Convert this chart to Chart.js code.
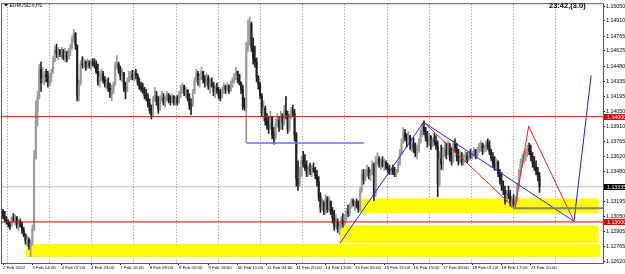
<!DOCTYPE html>
<html>
<head>
<meta charset="utf-8">
<script src="https://cdn.jsdelivr.net/npm/chart.js@4.4.1/dist/chart.umd.min.js"></script>
<style>
  html, body { margin: 0; padding: 0; background: #fff; }
  canvas { display: block; }
</style>
</head>
<body>
<canvas id="chart" width="625" height="274"></canvas>
<script>
// EURUSD.s H1 bars, 2 Feb 21:00 -> 21 Feb 15:00 (one value per hourly bar)
var highs = [
  1.1312,1.1310,1.1305,1.1302,1.1300,1.1305,1.1308,1.1307,1.1304,1.1302,1.1303,1.1300,1.1295,1.1289,1.1287,1.1285,1.1283,1.1297,1.1368,1.1415,
  1.1424,1.1450,1.1452,1.1447,1.1443,1.1445,1.1443,1.1441,1.1445,1.1457,1.1467,1.1469,1.1466,1.1464,1.1466,1.1464,1.1465,1.1462,1.1465,1.1469,
  1.1477,1.1483,1.1480,1.1468,1.1435,1.1453,1.1457,1.1455,1.1453,1.1455,1.1453,1.1454,1.1455,1.1455,1.1453,1.1450,1.1443,1.1445,1.1443,1.1438,
  1.1436,1.1437,1.1432,1.1430,1.1433,1.1452,1.1458,1.1452,1.1448,1.1446,1.1442,1.1433,1.1437,1.1443,1.1443,1.1444,1.1443,1.1445,1.1441,1.1437,
  1.1433,1.1432,1.1428,1.1426,1.1422,1.1417,1.1411,1.1419,1.1428,1.1424,1.1419,1.1420,1.1424,1.1422,1.1420,1.1424,1.1422,1.1420,1.1422,1.1420,
  1.1419,1.1420,1.1424,1.1430,1.1432,1.1430,1.1428,1.1426,1.1422,1.1417,1.1426,1.1437,1.1445,1.1443,1.1441,1.1447,1.1443,1.1439,1.1441,1.1439,
  1.1436,1.1437,1.1433,1.1430,1.1432,1.1428,1.1426,1.1428,1.1432,1.1430,1.1432,1.1430,1.1434,1.1437,1.1441,1.1447,1.1443,1.1440,1.1433,1.1430,
  1.1418,1.1471,1.1492,1.1495,1.1490,1.1475,1.1467,1.1456,1.1439,1.1433,1.1422,1.1415,1.1410,1.1403,1.1400,1.1405,1.1400,1.1390,1.1398,1.1403,
  1.1400,1.1405,1.1403,1.1411,1.1419,1.1405,1.1403,1.1409,1.1411,1.1407,1.1385,1.1358,1.1352,1.1362,1.1367,1.1364,1.1358,1.1354,1.1356,1.1354,
  1.1356,1.1352,1.1349,1.1343,1.1328,1.1322,1.1320,1.1326,1.1324,1.1324,1.1320,1.1314,1.1311,1.1307,1.1303,1.1299,1.1305,1.1308,1.1307,1.1313,
  1.1316,1.1318,1.1322,1.1322,1.1320,1.1322,1.1320,1.1333,1.1349,1.1350,1.1350,1.1354,1.1352,1.1350,1.1358,1.1356,1.1362,1.1366,1.1362,1.1360,
  1.1362,1.1360,1.1358,1.1356,1.1354,1.1352,1.1354,1.1352,1.1350,1.1358,1.1369,1.1379,1.1390,1.1388,1.1384,1.1386,1.1382,1.1379,1.1380,1.1375,
  1.1373,1.1379,1.1388,1.1394,1.1396,1.1390,1.1386,1.1384,1.1382,1.1380,1.1384,1.1382,1.1377,1.1367,1.1373,1.1371,1.1377,1.1375,1.1377,1.1375,
  1.1371,1.1377,1.1379,1.1375,1.1369,1.1367,1.1366,1.1364,1.1367,1.1366,1.1367,1.1369,1.1367,1.1371,1.1369,1.1371,1.1375,1.1377,1.1375,1.1373,
  1.1377,1.1379,1.1377,1.1369,1.1366,1.1362,1.1360,1.1358,1.1350,1.1347,1.1339,1.1334,1.1330,1.1334,1.1330,1.1324,1.1326,1.1324,1.1337,1.1350,
  1.1360,1.1364,1.1367,1.1369,1.1373,1.1375,1.1373,1.1366,1.1362,1.1358,1.1352,1.1347
];
var lows = [
  1.1303,1.1300,1.1298,1.1295,1.1293,1.1296,1.1300,1.1297,1.1294,1.1292,1.1295,1.1289,1.1286,1.1279,1.1277,1.1274,1.1267,1.1278,1.1292,1.1360,
  1.1391,1.1417,1.1424,1.1432,1.1430,1.1433,1.1428,1.1429,1.1433,1.1441,1.1452,1.1456,1.1454,1.1457,1.1455,1.1454,1.1452,1.1452,1.1455,1.1458,
  1.1464,1.1471,1.1464,1.1415,1.1415,1.1430,1.1446,1.1446,1.1444,1.1446,1.1446,1.1445,1.1448,1.1446,1.1441,1.1430,1.1428,1.1434,1.1432,1.1428,
  1.1426,1.1424,1.1418,1.1415,1.1422,1.1430,1.1446,1.1441,1.1435,1.1433,1.1424,1.1417,1.1424,1.1433,1.1435,1.1435,1.1434,1.1436,1.1430,1.1426,
  1.1424,1.1422,1.1417,1.1415,1.1409,1.1403,1.1398,1.1400,1.1415,1.1411,1.1403,1.1406,1.1415,1.1411,1.1409,1.1415,1.1413,1.1411,1.1413,1.1411,
  1.1411,1.1411,1.1413,1.1418,1.1422,1.1420,1.1418,1.1415,1.1407,1.1402,1.1410,1.1422,1.1433,1.1430,1.1428,1.1435,1.1432,1.1428,1.1430,1.1426,
  1.1422,1.1428,1.1420,1.1418,1.1422,1.1417,1.1415,1.1418,1.1422,1.1422,1.1424,1.1422,1.1424,1.1428,1.1432,1.1435,1.1432,1.1430,1.1422,1.1407,
  1.1406,1.1375,1.1462,1.1468,1.1462,1.1450,1.1447,1.1433,1.1426,1.1417,1.1400,1.1396,1.1392,1.1388,1.1384,1.1388,1.1379,1.1374,1.1378,1.1390,
  1.1386,1.1388,1.1388,1.1392,1.1398,1.1384,1.1386,1.1398,1.1400,1.1377,1.1334,1.1330,1.1334,1.1343,1.1352,1.1349,1.1343,1.1343,1.1345,1.1343,
  1.1347,1.1341,1.1334,1.1320,1.1309,1.1311,1.1307,1.1308,1.1309,1.1310,1.1307,1.1299,1.1292,1.1294,1.1290,1.1288,1.1294,1.1295,1.1297,1.1301,
  1.1305,1.1306,1.1313,1.1315,1.1311,1.1313,1.1309,1.1310,1.1328,1.1336,1.1339,1.1343,1.1341,1.1339,1.1345,1.1320,1.1324,1.1354,1.1352,1.1350,
  1.1352,1.1349,1.1350,1.1347,1.1345,1.1345,1.1345,1.1343,1.1343,1.1347,1.1354,1.1364,1.1375,1.1377,1.1371,1.1375,1.1369,1.1367,1.1366,1.1362,
  1.1360,1.1366,1.1375,1.1381,1.1383,1.1377,1.1371,1.1373,1.1369,1.1371,1.1373,1.1369,1.1324,1.1334,1.1350,1.1349,1.1362,1.1360,1.1364,1.1358,
  1.1354,1.1356,1.1366,1.1358,1.1354,1.1356,1.1354,1.1354,1.1358,1.1356,1.1358,1.1360,1.1360,1.1362,1.1360,1.1362,1.1366,1.1367,1.1364,1.1366,
  1.1367,1.1369,1.1364,1.1358,1.1352,1.1349,1.1350,1.1343,1.1336,1.1330,1.1326,1.1317,1.1319,1.1322,1.1315,1.1313,1.1315,1.1313,1.1320,1.1333,
  1.1346,1.1352,1.1356,1.1358,1.1362,1.1364,1.1358,1.1352,1.1349,1.1345,1.1339,1.1328
];
var closes = [
  1.1305,1.1302,1.1300,1.1298,1.1296,1.1303,1.1302,1.1305,1.1298,1.1300,1.1297,1.1292,1.1288,1.1282,1.1283,1.1277,1.1280,1.1293,1.1360,1.1405,
  1.1418,1.1445,1.1432,1.1436,1.1440,1.1438,1.1431,1.1437,1.1442,1.1453,1.1463,1.1460,1.1463,1.1459,1.1462,1.1456,1.1461,1.1455,1.1463,1.1466,
  1.1474,1.1479,1.1468,1.1420,1.1432,1.1450,1.1449,1.1452,1.1447,1.1451,1.1449,1.1452,1.1450,1.1448,1.1443,1.1433,1.1438,1.1441,1.1435,1.1431,
  1.1433,1.1427,1.1421,1.1425,1.1430,1.1448,1.1450,1.1444,1.1439,1.1442,1.1428,1.1424,1.1433,1.1438,1.1440,1.1437,1.1441,1.1439,1.1433,1.1429,
  1.1427,1.1424,1.1420,1.1418,1.1412,1.1406,1.1401,1.1415,1.1420,1.1414,1.1407,1.1416,1.1418,1.1413,1.1417,1.1421,1.1416,1.1414,1.1419,1.1413,
  1.1417,1.1413,1.1421,1.1426,1.1429,1.1423,1.1425,1.1418,1.1411,1.1410,1.1422,1.1434,1.1441,1.1435,1.1438,1.1443,1.1436,1.1433,1.1437,1.1429,
  1.1432,1.1431,1.1424,1.1427,1.1425,1.1420,1.1418,1.1424,1.1429,1.1426,1.1430,1.1425,1.1431,1.1435,1.1438,1.1443,1.1440,1.1433,1.1426,1.1410,
  1.1409,1.1465,1.1470,1.1488,1.1466,1.1455,1.1452,1.1437,1.1431,1.1420,1.1404,1.1408,1.1396,1.1392,1.1389,1.1400,1.1383,1.1380,1.1393,1.1397,
  1.1390,1.1401,1.1394,1.1406,1.1402,1.1388,1.1400,1.1405,1.1403,1.1383,1.1341,1.1336,1.1345,1.1358,1.1355,1.1352,1.1346,1.1350,1.1348,1.1351,
  1.1349,1.1344,1.1338,1.1324,1.1313,1.1318,1.1310,1.1322,1.1312,1.1319,1.1309,1.1304,1.1296,1.1300,1.1293,1.1296,1.1302,1.1298,1.1304,1.1310,
  1.1308,1.1315,1.1320,1.1317,1.1319,1.1316,1.1312,1.1330,1.1345,1.1340,1.1347,1.1350,1.1344,1.1346,1.1355,1.1326,1.1358,1.1360,1.1356,1.1358,
  1.1354,1.1357,1.1352,1.1350,1.1347,1.1350,1.1347,1.1345,1.1348,1.1355,1.1365,1.1375,1.1385,1.1380,1.1378,1.1382,1.1373,1.1375,1.1370,1.1365,
  1.1368,1.1375,1.1384,1.1390,1.1386,1.1380,1.1376,1.1381,1.1372,1.1378,1.1376,1.1372,1.1336,1.1360,1.1355,1.1366,1.1368,1.1364,1.1372,1.1362,
  1.1358,1.1374,1.1370,1.1362,1.1357,1.1360,1.1357,1.1361,1.1363,1.1359,1.1365,1.1362,1.1364,1.1368,1.1363,1.1369,1.1372,1.1374,1.1367,1.1370,
  1.1375,1.1372,1.1366,1.1361,1.1355,1.1352,1.1357,1.1346,1.1339,1.1334,1.1330,1.1320,1.1327,1.1325,1.1318,1.1320,1.1317,1.1322,1.1334,1.1346,
  1.1356,1.1359,1.1363,1.1365,1.1370,1.1367,1.1362,1.1356,1.1352,1.1348,1.1343,1.13335
];
var firstOpen = 1.1310;

// time axis: a label every 17 bars, grid every ~24.5 bars
var labelBars = [0, 17, 34, 51, 68, 85, 102, 119, 136, 153, 170, 187, 204, 221, 238, 255, 272, 289, 306];
var timeLabels = ["2 Feb 2022", "3 Feb 14:00", "4 Feb 07:00", "4 Feb 23:00", "7 Feb 16:00", "8 Feb 09:00",
  "9 Feb 02:00", "9 Feb 18:00", "10 Feb 11:00", "11 Feb 04:00", "11 Feb 20:00", "14 Feb 13:00",
  "15 Feb 06:00", "15 Feb 22:00", "16 Feb 15:00", "17 Feb 08:00", "18 Feb 01:00", "18 Feb 17:00", "21 Feb 10:00"];
var gridBars = [2.5, 27, 51.4, 75.9, 100.4, 124.8, 149.3, 173.8, 198.2, 222.7, 247.1, 271.6, 296, 320.5];
var priceTicks = [1.15050, 1.14910, 1.14765, 1.14625, 1.14480, 1.14335, 1.14195, 1.14050, 1.13910,
  1.13765, 1.13620, 1.13480, 1.13335, 1.13195, 1.13050, 1.12905, 1.12765, 1.12620];

// drawn objects
var roundLevels = [1.14000, 1.13000];
var bidPrice = 1.13335;
var zoneFrom = [13.3, 194.8, 207.5];
var zoneTo = [346.2, 345.2, 345.2];
var zoneTop = [1.12789, 1.12968, 1.13223];
var zoneBottom = [1.12667, 1.12799, 1.13081];
var blueLegBars = [195.4, 243.8, 331, 340.9];
var blueLegPrices = [1.12799, 1.13948, 1.13006, 1.14391];
var redLegBars = [243.8, 296.8, 304.7, 331];
var redLegPrices = [1.13948, 1.13128, 1.13910, 1.13006];
var flatBlueBars = [141.4, 209.3];
var flatBluePrice = 1.13750;
var flatGrayBars = [295.7, 348];
var flatGrayPrice = 1.13131;

var xMin = -0.6, xMax = 347.8;
var yMin = 1.12610, yMax = 1.15069;

var opens = closes.map((c, i) => i ? closes[i - 1] : firstOpen);
var candleColor = (i) => closes[i] >= opens[i] ? '#9a9a9a' : '#202020';
var font = 'Liberation Sans';

function segment(bars, prices, color, width, order) {
  return {
    type: 'line',
    data: bars.map((b, i) => ({x: b, y: Array.isArray(prices) ? prices[i] : prices})),
    borderColor: color,
    borderWidth: width,
    pointRadius: 0,
    fill: false,
    tension: 0,
    order: order,
    xAxisID: 'x',
    yAxisID: 'y'
  };
}

var datasets = [
  segment([xMin, xMax], bidPrice, '#c4c4c4', 1, 10),
  {
    type: 'bar',
    data: closes.map((c, i) => ({x: i, y: [lows[i], highs[i]]})),
    backgroundColor: (ctx) => candleColor(ctx.dataIndex),
    barThickness: 1,
    grouped: false,
    order: 4,
    xAxisID: 'x',
    yAxisID: 'y'
  },
  {
    type: 'bar',
    data: closes.map((c, i) => ({x: i, y: [opens[i], c]})),
    backgroundColor: (ctx) => candleColor(ctx.dataIndex),
    barThickness: 1.4,
    minBarLength: 1,
    grouped: false,
    order: 3,
    xAxisID: 'x',
    yAxisID: 'y'
  },
  segment([xMin, xMax], roundLevels[0], '#e00000', 1, 1),
  segment([xMin, xMax], roundLevels[1], '#e00000', 1, 1),
  segment(flatBlueBars, flatBluePrice, '#6f6ff5', 1.5, 1),
  segment(flatGrayBars, flatGrayPrice, '#7f7f7f', 2, 1),
  segment(redLegBars, redLegPrices, '#f01818', 1, 1),
  segment(blueLegBars, blueLegPrices, '#1e1ee0', 1, 1)
];

var overlay = {
  id: 'overlay',
  beforeDatasetsDraw(chart) {
    const {ctx, chartArea, scales: {x, y}} = chart;
    ctx.save();
    ctx.beginPath();
    ctx.rect(chartArea.left, chartArea.top, chartArea.width, chartArea.height);
    ctx.clip();
    ctx.fillStyle = '#ffff00';
    zoneFrom.forEach((f, i) => {
      const x0 = x.getPixelForValue(f), x1 = x.getPixelForValue(zoneTo[i]);
      const y0 = y.getPixelForValue(zoneTop[i]), y1 = y.getPixelForValue(zoneBottom[i]);
      ctx.fillRect(x0, y0, x1 - x0, y1 - y0);
    });
    ctx.restore();
  },
  afterDraw(chart) {
    const {ctx, chartArea, scales: {y}} = chart;
    ctx.save();
    // frame
    ctx.strokeStyle = '#5a5a5a';
    ctx.lineWidth = 1;
    ctx.strokeRect(chartArea.left - 0.5, chartArea.top - 0.5, chartArea.width + 1, chartArea.height + 1);

    // price boxes on the right scale
    const boxes = [[roundLevels[0], '#e00000'], [roundLevels[1], '#e00000'], [bidPrice, '#000000']];
    ctx.font = '5.3px "' + font + '"';
    ctx.textBaseline = 'middle';
    ctx.textAlign = 'left';
    boxes.forEach(([p, col]) => {
      const py = Math.round(y.getPixelForValue(p));
      ctx.fillStyle = col;
      ctx.fillRect(chartArea.right + 1, py - 3, 21, 6);
      ctx.fillStyle = '#ffffff';
      ctx.fillText(p.toFixed(5), chartArea.right + 4, py + 0.3);
    });

    // symbol caption
    ctx.fillStyle = '#000';
    ctx.beginPath();
    ctx.moveTo(4, 4); ctx.lineTo(8, 4); ctx.lineTo(6, 6.5); ctx.closePath();
    ctx.fill();
    ctx.font = '5px "' + font + '"';
    ctx.fillText('EURUSD.s,H1', 9.5, 5.5);

    // countdown
    ctx.font = 'bold 7.5px "' + font + '"';
    ctx.fillText('23:42,(3.0)', 549, 6);
    ctx.restore();
  }
};

var chart = new Chart(document.getElementById('chart').getContext('2d'), {
  type: 'bar',
  data: {datasets: datasets},
  options: {
    responsive: false,
    animation: false,
    events: [],
    layout: {padding: {left: 2, top: 2, right: 0, bottom: 0}},
    plugins: {legend: {display: false}, tooltip: {enabled: false}},
    scales: {
      xg: {
        type: 'linear',
        position: 'bottom',
        offset: false,
        min: xMin,
        max: xMax,
        afterBuildTicks: (s) => { s.ticks = gridBars.map(v => ({value: v})); },
        afterFit: (s) => { s.height = 0; },
        ticks: {display: false},
        grid: {color: '#8a8a8a', lineWidth: 1, drawTicks: false, offset: false},
        border: {display: false, dash: [1, 2]}
      },
      x: {
        type: 'linear',
        position: 'bottom',
        offset: false,
        min: xMin,
        max: xMax,
        afterBuildTicks: (s) => { s.ticks = labelBars.map(v => ({value: v})); },
        afterFit: (s) => { s.height = 11; },
        ticks: {
          align: 'start',
          autoSkip: false,
          maxRotation: 0,
          padding: 0,
          color: '#000',
          font: {family: font, size: 4.4},
          callback: (v) => timeLabels[labelBars.indexOf(v)]
        },
        grid: {drawOnChartArea: false, tickLength: 2, tickColor: '#000', offset: false},
        border: {display: false}
      },
      y: {
        type: 'linear',
        position: 'right',
        min: yMin,
        max: yMax,
        afterBuildTicks: (s) => { s.ticks = priceTicks.map(v => ({value: v})); },
        afterFit: (s) => { s.width = 22; },
        ticks: {
          padding: 1,
          color: '#000',
          font: {family: font, size: 5.3},
          callback: (v) => v.toFixed(5)
        },
        grid: {drawOnChartArea: false, tickLength: 2, tickColor: '#000'},
        border: {display: false}
      }
    }
  },
  plugins: [overlay]
});
</script>
</body>
</html>
